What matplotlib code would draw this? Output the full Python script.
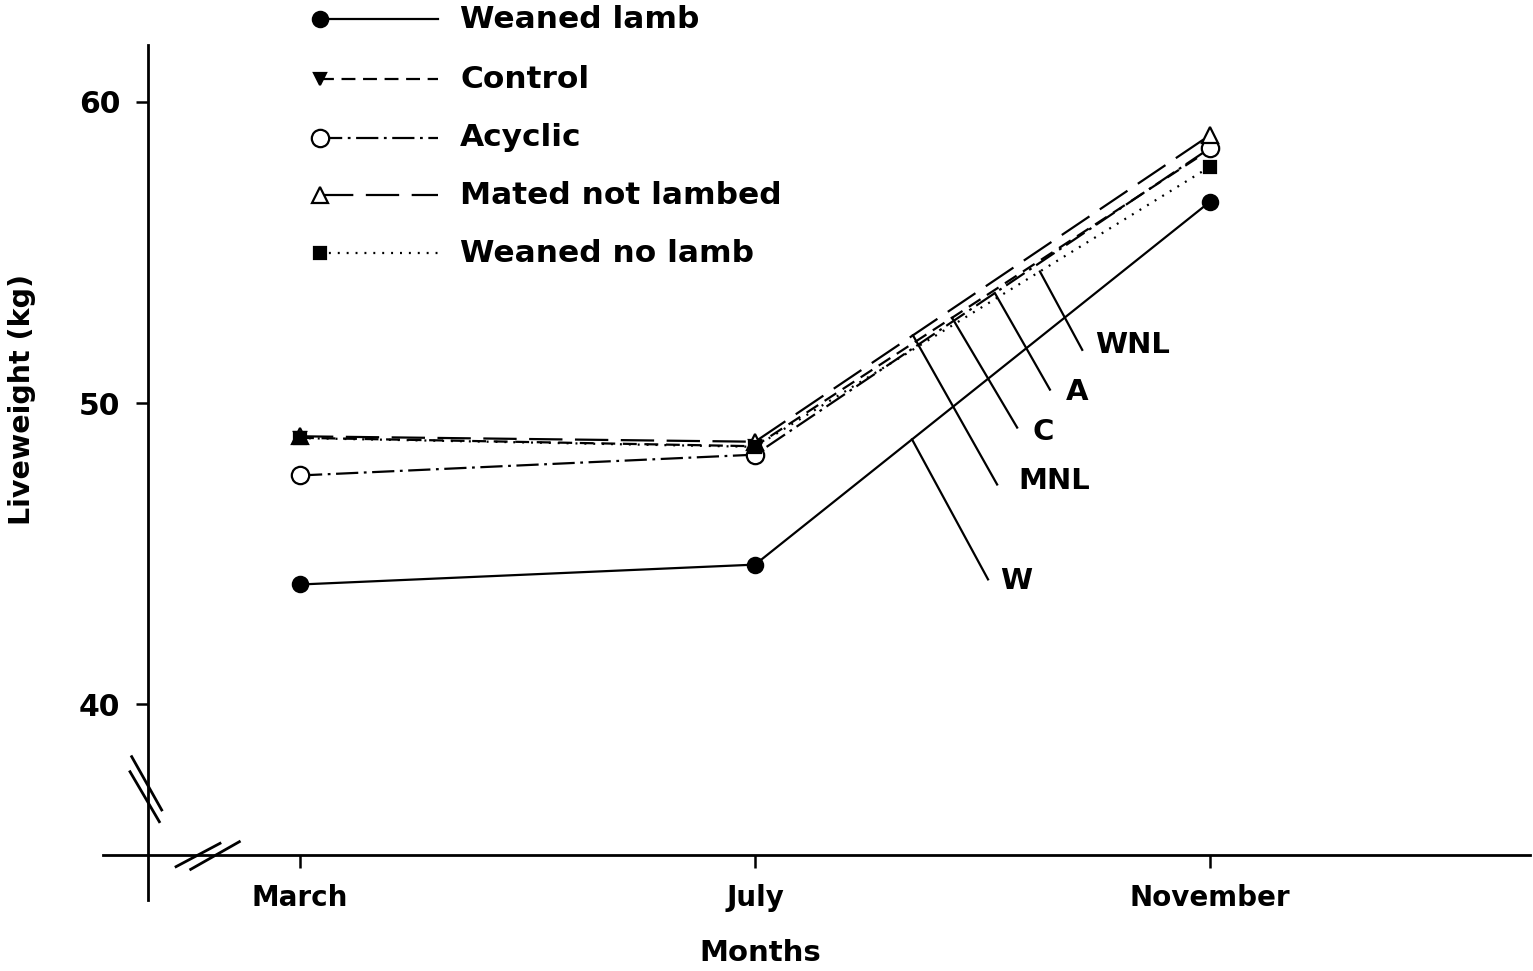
import matplotlib
matplotlib.use('Agg')
import matplotlib.pyplot as plt
import numpy as np

plt.rcParams['font.family'] = 'DejaVu Sans'
plt.rcParams['font.weight'] = 'bold'
plt.rcParams['lines.scale_dashes'] = False

months = ['March', 'July', 'November']
x = np.arange(len(months))

weaned_lamb = [43.98, 44.64, 56.69]
control = [48.85, 48.57, 58.42]
acyclic = [47.60, 48.29, 58.47]
mated_not_lambed = [48.90, 48.72, 58.90]
weaned_no_lamb = [48.84, 48.55, 57.85]

names = ['Weaned lamb', 'Control', 'Acyclic', 'Mated not lambed', 'Weaned no lamb']
short = ['W', 'C', 'A', 'MNL', 'WNL']
series = [weaned_lamb, control, acyclic, mated_not_lambed, weaned_no_lamb]

# (dashes, marker, markersize, filled)
styles = [
    ((None), 'o', 11, True),
    ((0, (10, 5.5)), 'v', 8, True),
    ((0, (16, 4, 2, 4)), 'o', 12.5, False),
    ((0, (24, 9)), '^', 12, False),
    ((0, (1.4, 5)), 's', 8.5, True),
]

# leader lines: x where the line leaves the series, end of the leader, label start
leader_x = [1.345, 1.433, 1.527, 1.347, 1.626]
leader_end = [(1.512, 44.15), (1.576, 49.19), (1.648, 50.45), (1.532, 47.30), (1.719, 51.77)]
label_pos = [(1.538, 44.08), (1.609, 49.05), (1.684, 50.38), (1.578, 47.40), (1.747, 51.94)]

fig = plt.figure(figsize=(15.33, 9.71), dpi=100)
ax = fig.add_axes([148 / 1533, 1 - 855 / 971, 1382 / 1533, 810 / 971])
ax.set_xlim(-0.334, 2.703)
ax.set_ylim(35, 61.89)

for vals, (ls, mk, ms, filled) in zip(series, styles):
    kw = dict(color='black', lw=1.6, marker=mk, markersize=ms,
              markerfacecolor='black' if filled else 'white',
              markeredgecolor='black', markeredgewidth=1.6, zorder=3)
    if ls is None:
        ax.plot(x, vals, linestyle='-', **kw)
    else:
        ax.plot(x, vals, linestyle=ls, **kw)

for vals, lx, (ex, ey), (tx, ty), lab in zip(series, leader_x, leader_end, label_pos, short):
    sy = np.interp(lx, x, vals)
    ax.plot([lx, ex], [sy, ey], color='black', lw=1.6, zorder=2)
    ax.text(tx, ty, lab, fontsize=21, fontweight='bold', ha='left', va='center')

# axes drawn by hand so they cross and break like the original
for s in ax.spines.values():
    s.set_visible(False)
ax.plot([-0.0326, 1.0], [0, 0], transform=ax.transAxes, color='black', lw=2, clip_on=False)
ax.plot([0, 0], [-0.0556, 1.0], transform=ax.transAxes, color='black', lw=2, clip_on=False)
for (x0, x1, y0, y1) in [(-0.0118, 0.0099, 0.1214, 0.0556), (-0.0130, 0.0082, 0.1028, 0.0411),
                         (0.0203, 0.0521, -0.0144, 0.0144), (0.0309, 0.0661, -0.0177, 0.0164)]:
    ax.plot([x0, x1], [y0, y1], transform=ax.transAxes, color='black', lw=2, clip_on=False)

ax.set_xticks(x)
ax.set_xticklabels(months, fontsize=20, fontweight='bold')
ax.set_yticks([40, 50, 60])
ax.set_yticklabels(['40', '50', '60'], fontsize=21.5, fontweight='bold')
ax.tick_params(axis='x', direction='out', length=9, width=1.8, pad=12)
ax.tick_params(axis='y', direction='out', length=9, width=1.8, pad=11)

ax.set_xlabel('Months', fontsize=21, fontweight='bold', va='center', ha='center')
ax.xaxis.set_label_coords(0.443, -0.121)
ax.set_ylabel('Liveweight (kg)', fontsize=20.5, fontweight='bold', va='center', ha='center')
ax.yaxis.set_label_coords(-0.091, 0.562)

# hand-placed legend, marker at the left end of each sample line
leg_rows = [19, 79, 138, 195, 253]
for name, (ls, mk, ms, filled), row in zip(names, styles, leg_rows):
    yf = 1 - row / 971
    x0, x1 = 320 / 1533, 438 / 1533
    fig.add_artist(plt.Line2D([x0, x1], [yf, yf], color='black', lw=1.6,
                              linestyle='-' if ls is None else ls))
    fig.add_artist(plt.Line2D([x0], [yf], marker=mk, markersize=ms, color='black',
                              markerfacecolor='black' if filled else 'white',
                              markeredgewidth=1.6))
    fig.text(460 / 1533, yf, name, fontsize=22.5, fontweight='bold', ha='left', va='center')

fig.savefig('out.png', dpi=100, facecolor='white')
